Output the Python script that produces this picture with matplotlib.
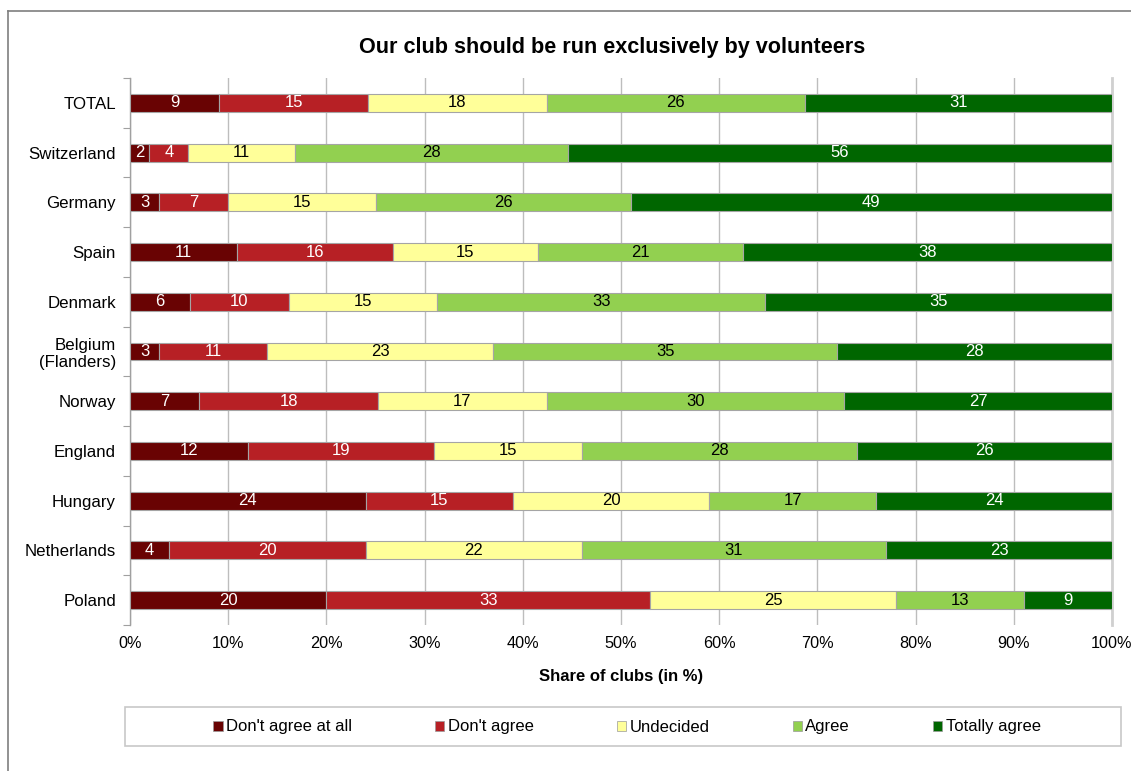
import matplotlib
matplotlib.use("Agg")
import matplotlib.pyplot as plt
from matplotlib.patches import Rectangle, Patch
from matplotlib.lines import Line2D
import numpy as np

plt.rcParams['font.family'] = ['Liberation Sans', 'DejaVu Sans']

countries = ["TOTAL", "Switzerland", "Germany", "Spain", "Denmark",
             "Belgium\n(Flanders)", "Norway", "England", "Hungary",
             "Netherlands", "Poland"]
categories = ["Don't agree at all", "Don't agree", "Undecided", "Agree", "Totally agree"]
dont_agree_at_all = [9, 2, 3, 11, 6, 3, 7, 12, 24, 4, 20]
dont_agree = [15, 4, 7, 16, 10, 11, 18, 19, 15, 20, 33]
undecided = [18, 11, 15, 15, 15, 23, 17, 15, 20, 22, 25]
agree = [26, 28, 26, 21, 33, 35, 30, 28, 17, 31, 13]
totally_agree = [31, 56, 49, 38, 35, 28, 27, 26, 24, 23, 9]
colors = ["#690303", "#B72025", "#FFFF99", "#92D050", "#006600"]
text_colors = ["white", "white", "black", "black", "white"]
xticks = [0, 10, 20, 30, 40, 50, 60, 70, 80, 90, 100]

W, H = 1131, 771
fig = plt.figure(figsize=(W / 100, H / 100), dpi=100)

# outer chart border (top and left visible)
fig.add_artist(Line2D([8 / W, 8 / W], [0, 1 - 11 / H], transform=fig.transFigure,
                      color="#7f7f7f", lw=1.2))
fig.add_artist(Line2D([8 / W, 1], [1 - 11 / H, 1 - 11 / H], transform=fig.transFigure,
                      color="#7f7f7f", lw=1.2))

left, right, top, bottom = 130, 1112, 78, 625
ax = fig.add_axes([left / W, 1 - bottom / H, (right - left) / W, (bottom - top) / H])

data = np.array([dont_agree_at_all, dont_agree, undecided, agree, totally_agree], dtype=float)
shares = data / data.sum(axis=0) * 100
y = np.arange(len(countries))
starts = np.zeros(len(countries))
for i in range(len(categories)):
    ax.barh(y, shares[i], left=starts, height=0.36, color=colors[i],
            edgecolor="#a5a5a5", linewidth=0.8, label=categories[i], zorder=3)
    for j in range(len(countries)):
        ax.text(starts[j] + shares[i][j] / 2, y[j], f"{int(data[i][j])}",
                ha="center", va="center", color=text_colors[i], fontsize=12, zorder=4)
    starts += shares[i]

ax.set_xlim(0, 100)
ax.set_ylim(len(countries) - 0.5, -0.5)
ax.set_xticks(xticks)
ax.set_xticklabels([f"{t}%" for t in xticks], fontsize=11.7)
ax.set_yticks(y)
ax.set_yticklabels(countries, fontsize=12.2)
ax.set_yticks(np.arange(-0.5, len(countries), 1), minor=True)
ax.tick_params(axis="y", which="major", length=0, pad=10)
ax.tick_params(axis="y", which="minor", length=5, color="#a0a0a0", width=0.8)
ax.tick_params(axis="x", length=0, pad=8)
ax.grid(axis="x", color="#bdbdbd", linewidth=1.0, zorder=0)
for s in ["top", "bottom"]:
    ax.spines[s].set_visible(False)
ax.spines["right"].set_color("#d0d0d0")
ax.spines["right"].set_linewidth(2)
ax.spines["left"].set_color("#a0a0a0")
ax.spines["left"].set_linewidth(1)
ax.set_xlabel("Share of clubs (in %)", fontsize=12, fontweight="bold", labelpad=13)

fig.text(612 / W, 1 - 47 / H, "Our club should be run exclusively by volunteers",
         ha="center", va="center", fontsize=15.6, fontweight="bold")

# legend box
fig.add_artist(Rectangle((125 / W, 1 - 746 / H), (1121 - 125) / W, (746 - 707) / H,
                         transform=fig.transFigure, fill=False, edgecolor="#c8c8c8", lw=1.2))
handles = [Patch(facecolor=c, edgecolor="#9a9a9a", linewidth=0.5) for c in colors]
fig.legend(handles, categories, loc="center", ncol=5,
           bbox_to_anchor=(627 / W, 1 - 727 / H), frameon=False, fontsize=12,
           handlelength=0.55, handleheight=0.55, handletextpad=0.2, columnspacing=5.0)

fig.savefig("out.png", dpi=100)
